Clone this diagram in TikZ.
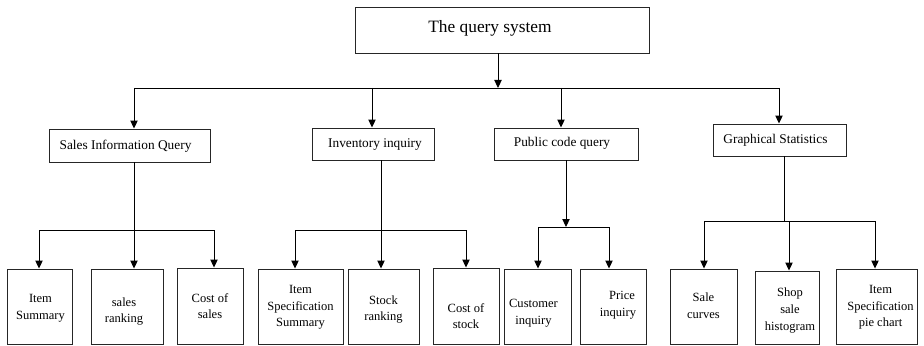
\documentclass[tikz,border=0pt]{standalone}
\usepackage{fontspec}
\setmainfont{Liberation Serif}
\usetikzlibrary{arrows.meta}
\tikzset{
  box/.style={draw=black!85, line width=0.7pt, inner sep=0pt},
  arr/.style={-{Triangle[width=5.5pt,length=6pt]}, line width=0.7pt},
  ln/.style={line width=0.7pt},
  leaffont/.style={font=\fontsize{9.4pt}{12.5pt}\selectfont},
  midfont/.style={font=\fontsize{10pt}{12pt}\selectfont},
  topfont/.style={font=\fontsize{13pt}{15pt}\selectfont}
}
% \bx{name}{x1}{y1}{x2}{y2}{text}{font style}{dx}{dy}  (px, dy positive = down)
\newcommand{\bx}[9]{\node[box, minimum width={(#4-#2)*0.75pt}, minimum height={(#5-#3)*0.75pt},
  label={[#7, align=center, inner sep=0pt, xshift={(#8)*0.75pt}, yshift={-(#9)*0.75pt}]center:#6}]
  (#1) at ({(#2+#4)/2},{(#3+#5)/2}) {};}
\begin{document}
\begin{tikzpicture}[x=0.75pt,y=-0.75pt]
\useasboundingbox (0,0) rectangle (924,346);
% top
\bx{top}{355}{7}{649}{53}{The query system}{topfont}{-12}{-2}
% level 2
\bx{sales}{49}{129}{210}{162}{Sales Information Query}{midfont}{-4}{1}
\bx{inv}{312}{128}{434}{160}{Inventory inquiry}{midfont}{2}{1}
\bx{pub}{494}{128}{638}{160}{Public code query}{midfont}{-4}{-1}
\bx{gra}{713}{124}{846}{156}{Graphical Statistics}{midfont}{-4}{0}
% leaves
\bx{l1}{7}{269}{72}{344}{Item\\Summary}{leaffont}{1}{2}
\bx{l2}{91}{269}{163}{344}{sales\\ranking}{leaffont}{-3}{5}
\bx{l3}{177}{268}{243}{344}{Cost of\\sales}{leaffont}{0}{0}
\bx{l4}{258}{269}{343}{344}{Item\\Specification\\Summary}{leaffont}{0}{1}
\bx{l5}{348}{269}{419}{344}{Stock\\ranking}{leaffont}{0}{3}
\bx{l6}{433}{268}{499}{344}{Cost of\\stock}{leaffont}{0}{10}
\bx{l7}{504}{269}{571}{344}{Customer\\inquiry}{leaffont}{-4}{7}
\bx{l8}{580}{269}{646}{344}{\hspace*{6pt}Price\\inquiry}{leaffont}{5}{-1}
\bx{l9}{670}{269}{737}{344}{Sale\\curves}{leaffont}{0}{-1}
\bx{l10}{755}{271}{819}{344}{Shop\\sale\\histogram}{leaffont}{3}{3}
\bx{l11}{836}{269}{917}{344}{Item\\Specification\\pie chart}{leaffont}{4}{1}
% junction coordinates
\coordinate (j0) at (498,88);
\coordinate (h1) at (134,88);
\coordinate (h2) at (372,88);
\coordinate (h3) at (561,88);
\coordinate (h4) at (779,88);
\coordinate (s1) at (39,230);
\coordinate (s2) at (134,230);
\coordinate (s3) at (214,230);
\coordinate (i1) at (295,230);
\coordinate (i2) at (381,230);
\coordinate (i3) at (466,230);
\coordinate (p0) at (566,227);
\coordinate (p1) at (538,227);
\coordinate (p2) at (609,227);
\coordinate (g0) at (784,221);
\coordinate (g1) at (704,221);
\coordinate (g2) at (789,221);
\coordinate (g3) at (875,221);
% top connectors
\draw[arr] (top.south -| j0) -- (j0);
\draw[ln] (h1) -- (h4);
\draw[arr] (h1) -- (h1 |- sales.north);
\draw[arr] (h2) -- (h2 |- inv.north);
\draw[arr] (h3) -- (h3 |- pub.north);
\draw[arr] (h4) -- (h4 |- gra.north);
% sales
\draw[ln] (s1) -- (s3);
\draw[arr] (sales.south -| s2) -- (s2 |- l2.north);
\draw[arr] (s1) -- (s1 |- l1.north);
\draw[arr] (s3) -- (s3 |- l3.north);
% inventory
\draw[ln] (i1) -- (i3);
\draw[arr] (inv.south -| i2) -- (i2 |- l5.north);
\draw[arr] (i1) -- (i1 |- l4.north);
\draw[arr] (i3) -- (i3 |- l6.north);
% public
\draw[arr] (pub.south -| p0) -- (p0);
\draw[ln] (p1) -- (p2);
\draw[arr] (p1) -- (p1 |- l7.north);
\draw[arr] (p2) -- (p2 |- l8.north);
% graphical
\draw[ln] (gra.south -| g0) -- (g0);
\draw[ln] (g1) -- (g3);
\draw[arr] (g1) -- (g1 |- l9.north);
\draw[arr] (g2) -- (g2 |- l10.north);
\draw[arr] (g3) -- (g3 |- l11.north);
\end{tikzpicture}
\end{document}
